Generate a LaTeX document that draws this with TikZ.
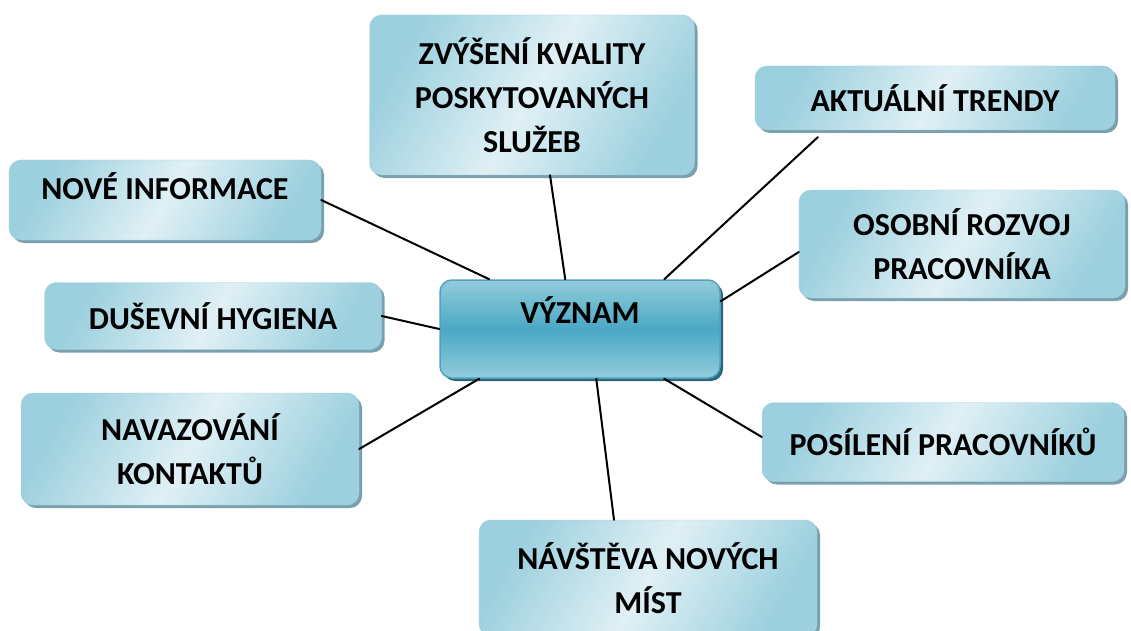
\documentclass[tikz,border=0pt]{standalone}
\usepackage{fontspec}
\setmainfont{Carlito}
\usetikzlibrary{shadows}
\definecolor{boxedge}{RGB}{156,208,222}
\definecolor{boxlight}{RGB}{224,240,245}
\definecolor{boxshadow}{RGB}{122,160,174}
\definecolor{mainlight}{RGB}{146,204,219}
\definecolor{maindark}{RGB}{74,168,196}
\definecolor{mainborder}{RGB}{82,160,186}
\definecolor{mainshadow}{RGB}{44,104,124}
\begin{document}
\begin{tikzpicture}[x=1pt, y=-1pt, line cap=round, line join=round, font=\fontsize{32}{44}\selectfont\bfseries]
	\tikzset{topic/.style={rounded corners=12pt, align=center, inner sep=0pt, draw=boxedge, thin,
			top color=boxedge, bottom color=boxedge, middle color=boxlight, shading angle=60,
			drop shadow={shadow xshift=3pt, shadow yshift=-3pt, fill=boxshadow, opacity=1}}}
	\tikzset{link/.style={line width=2pt, black}}
	\clip (0,0) rectangle (1131,631);
	% center
	\node[rounded corners=12pt, align=center, inner sep=0pt, draw=mainborder, line width=1.5pt,
		top color=mainlight, bottom color=mainlight, middle color=maindark,
		drop shadow={shadow xshift=3pt, shadow yshift=-3pt, fill=mainshadow, opacity=1},
		minimum width=280pt, minimum height=98pt, text height=21pt, text depth=33pt] (vyznam) at (580,329) {VÝZNAM};
	% topics
	\node[topic, minimum width=325pt, minimum height=160pt] (kvalita) at (532,95) {ZVÝŠENÍ KVALITY\\POSKYTOVANÝCH\\SLUŽEB};
	\node[topic, minimum width=360pt, minimum height=64pt] (trendy) at (935,98) {AKTUÁLNÍ TRENDY};
	\node[topic, minimum width=312pt, minimum height=80pt, text height=21pt, text depth=22pt] (info) at (165,200) {NOVÉ INFORMACE};
	\node[topic, minimum width=326pt, minimum height=108pt] (rozvoj) at (962,244) {OSOBNÍ ROZVOJ\\PRACOVNÍKA};
	\node[topic, minimum width=337pt, minimum height=67pt] (hygiena) at (213,316) {DUŠEVNÍ HYGIENA};
	\node[topic, minimum width=338pt, minimum height=112pt] (kontakty) at (190,449) {NAVAZOVÁNÍ\\KONTAKTŮ};
	\node[topic, minimum width=362pt, minimum height=79pt] (posileni) at (943,442) {POSÍLENÍ PRACOVNÍKŮ};
	\node[topic, minimum width=338pt, minimum height=116pt] (mista) at (648,578) {NÁVŠTĚVA NOVÝCH\\MÍST};
	% connectors
	\draw[link] (info.east) -- ([xshift=50pt]vyznam.north west);
	\draw[link] ([xshift=18pt]kvalita.south) -- ([xshift=126pt]vyznam.north west);
	\draw[link] ([xshift=63pt, yshift=-7pt]trendy.south west) -- ([xshift=225pt]vyznam.north west);
	\draw[link] ([yshift=-8pt]rozvoj.west) -- ([yshift=-22pt]vyznam.north east);
	\draw[link] (hygiena.east) -- (vyznam.west);
	\draw[link] (kontakty.east) -- ([xshift=40pt]vyznam.south west);
	\draw[link] ([yshift=5pt]posileni.west) -- ([xshift=225pt]vyznam.south west);
	\draw[link] ([xshift=-34pt]mista.north) -- ([xshift=157pt]vyznam.south west);
\end{tikzpicture}
\end{document}
